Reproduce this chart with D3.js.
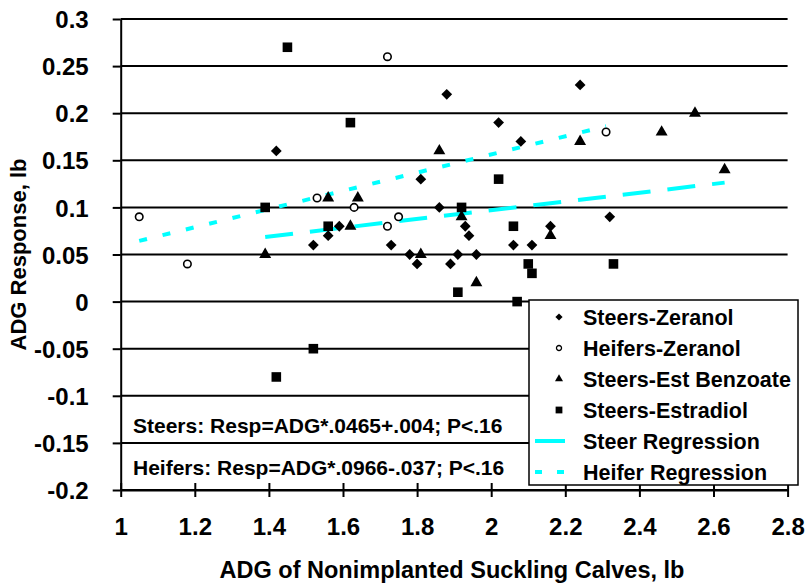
<!DOCTYPE html>
<html>
<head>
<meta charset="utf-8">
<script src="https://cdn.jsdelivr.net/npm/d3@7"></script>
<style>
  body { margin: 0; background: #fff; }
  svg { display: block; font-family: "Liberation Sans", Arial, sans-serif; font-weight: bold; }
</style>
</head>
<body>
<svg id="chart" width="806" height="584"></svg>
<script>
// 数据 [ADG, response]
var steersZeranol = [
    [1.42, 0.16], [1.88, 0.22], [2.24, 0.23], [2.02, 0.19], [2.08, 0.17], [1.81, 0.13],
    [1.86, 0.10], [1.59, 0.08], [1.56, 0.07], [1.52, 0.06], [1.73, 0.06], [1.78, 0.05],
    [1.80, 0.04], [1.89, 0.04], [1.91, 0.05], [1.96, 0.05], [1.93, 0.08], [1.94, 0.07],
    [2.32, 0.09], [2.16, 0.08], [2.06, 0.06], [2.11, 0.06]
];
var heifersZeranol = [
    [1.05, 0.09], [1.18, 0.04], [1.53, 0.11], [1.63, 0.10], [1.72, 0.26], [1.72, 0.08],
    [1.75, 0.09], [2.31, 0.18]
];
var steersEstBenzoate = [
    [1.39, 0.05], [1.56, 0.11], [1.62, 0.08], [1.64, 0.11], [1.81, 0.05], [1.86, 0.16],
    [1.92, 0.09], [1.96, 0.02], [2.16, 0.07], [2.24, 0.17], [2.46, 0.18], [2.55, 0.20],
    [2.63, 0.14]
];
var steersEstradiol = [
    [1.39, 0.10], [1.45, 0.27], [1.62, 0.19], [1.56, 0.08], [1.52, -0.05], [1.42, -0.08],
    [1.92, 0.10], [1.91, 0.01], [2.02, 0.13], [2.06, 0.08], [2.07, 0.00], [2.10, 0.04],
    [2.11, 0.03], [2.33, 0.04]
];
// 回归系数 [slope, intercept]
var steerCoef = [0.0465, 0.004];
var heiferCoef = [0.0966, -0.037];

var xTicks = [1, 1.2, 1.4, 1.6, 1.8, 2, 2.2, 2.4, 2.6, 2.8];
var xTickLabels = ['1', '1.2', '1.4', '1.6', '1.8', '2', '2.2', '2.4', '2.6', '2.8'];
var yTicks = [0.3, 0.25, 0.2, 0.15, 0.1, 0.05, 0, -0.05, -0.1, -0.15, -0.2];
var yTickLabels = ['0.3', '0.25', '0.2', '0.15', '0.1', '0.05', '0', '-0.05', '-0.1', '-0.15', '-0.2'];

var legendLabels = ['Steers-Zeranol', 'Heifers-Zeranol', 'Steers-Est Benzoate', 'Steers-Estradiol',
    'Steer Regression', 'Heifer Regression'];
var steerNote = 'Steers: Resp=ADG*.0465+.004; P<.16';
var heiferNote = 'Heifers: Resp=ADG*.0966-.037; P<.16';

var svg = d3.select('#chart');
var plotLeft = 120.7, plotRight = 787.6, plotTop = 19, plotBottom = 490;

var x = d3.scaleLinear().domain([1, 2.8]).range([plotLeft, plotRight]);
var y = d3.scaleLinear().domain([-0.2, 0.3]).range([plotBottom, plotTop]);

// 网格线
svg.append('g').selectAll('line')
    .data(yTicks)
    .enter()
    .append('line')
    .attr('x1', plotLeft).attr('x2', plotRight)
    .attr('y1', function(d) { return y(d); })
    .attr('y2', function(d) { return y(d); })
    .attr('stroke', '#000')
    .attr('stroke-width', 2);

// 坐标轴
var yAxis = svg.append('g')
    .attr('transform', 'translate(' + plotLeft + ',0)')
    .call(d3.axisLeft(y).tickValues(yTicks).tickSize(8).tickSizeOuter(0).tickPadding(24)
        .tickFormat(function(d, i) { return yTickLabels[i]; }));
var xAxis = svg.append('g')
    .attr('transform', 'translate(0,' + plotBottom + ')')
    .call(d3.axisBottom(x).tickValues(xTicks).tickSize(7).tickSizeOuter(0).tickPadding(21)
        .tickFormat(function(d, i) { return xTickLabels[i]; }));
xAxis.selectAll('.tick line').attr('y1', -7);
[xAxis, yAxis].forEach(function(a) {
    a.select('.domain').attr('stroke', '#000').attr('stroke-width', 2);
    a.selectAll('.tick line').attr('stroke', '#000').attr('stroke-width', 2);
    a.selectAll('.tick text')
        .attr('fill', '#000')
        .style('font-family', '"Liberation Sans", Arial, sans-serif')
        .style('font-weight', 'bold')
        .style('font-size', '24px');
});
yAxis.selectAll('.tick text').attr('dy', '0.36em');

// 回归线
function drawRegression(data, coef, dash) {
    var ext = d3.extent(data, function(d) { return d[0]; });
    svg.append('line')
        .attr('x1', x(ext[0])).attr('y1', y(ext[0] * coef[0] + coef[1]))
        .attr('x2', x(ext[1])).attr('y2', y(ext[1] * coef[0] + coef[1]))
        .attr('stroke', '#00ffff')
        .attr('stroke-width', 4)
        .attr('stroke-dasharray', dash);
}
drawRegression(steersZeranol.concat(steersEstBenzoate, steersEstradiol), steerCoef, '28,17');
drawRegression(heifersZeranol, heiferCoef, '8,16');

// 散点
var series = [
    { data: steersZeranol, type: d3.symbolSquare, size: 58, rotate: 45, fill: '#000' },
    { data: heifersZeranol, type: d3.symbolCircle, size: 44, rotate: 0, fill: '#fff' },
    { data: steersEstBenzoate, type: d3.symbolTriangle, size: 62, rotate: 0, fill: '#000' },
    { data: steersEstradiol, type: d3.symbolSquare, size: 92, rotate: 0, fill: '#000' }
];
var legendSize = [26, 20, 28, 46];
series.forEach(function(s) {
    svg.append('g').selectAll('path')
        .data(s.data)
        .enter()
        .append('path')
        .attr('d', d3.symbol().type(s.type).size(s.size))
        .attr('transform', function(d) {
            return 'translate(' + x(d[0]) + ',' + y(d[1]) + ') rotate(' + s.rotate + ')';
        })
        .attr('fill', s.fill)
        .attr('stroke', '#000')
        .attr('stroke-width', s.fill === '#fff' ? 1.6 : 0);
});

// 方程文字
svg.append('text').attr('x', 133).attr('y', 433).style('font-size', '21px').text(steerNote);
svg.append('text').attr('x', 133).attr('y', 475).style('font-size', '21px').text(heiferNote);

// 图例
var legend = svg.append('g');
legend.append('rect')
    .attr('x', 529).attr('y', 300).attr('width', 269).attr('height', 185)
    .attr('fill', '#fff').attr('stroke', '#000').attr('stroke-width', 1.5);
var rows = legend.selectAll('g.row')
    .data(legendLabels)
    .enter()
    .append('g')
    .attr('class', 'row')
    .attr('transform', function(d, i) { return 'translate(0,' + (317 + i * 31) + ')'; });
rows.append('text')
    .attr('x', 583)
    .attr('y', 7.5)
    .style('font-size', '21.5px')
    .text(function(d) { return d; });
rows.filter(function(d, i) { return i < 4; })
    .append('path')
    .attr('d', function(d, i) { return d3.symbol().type(series[i].type).size(legendSize[i])(); })
    .attr('transform', function(d, i) { return 'translate(559,0) rotate(' + series[i].rotate + ')'; })
    .attr('fill', function(d, i) { return series[i].fill; })
    .attr('stroke', '#000')
    .attr('stroke-width', function(d, i) { return series[i].fill === '#fff' ? 1.3 : 0; });
rows.filter(function(d, i) { return i >= 4; })
    .append('line')
    .attr('x1', 535).attr('x2', 565)
    .attr('stroke', '#00ffff').attr('stroke-width', 4)
    .attr('stroke-dasharray', function(d, i) { return i === 0 ? null : '7,15'; });

// 坐标轴标题
svg.append('text')
    .attr('x', 452).attr('y', 578)
    .attr('text-anchor', 'middle')
    .style('font-size', '23.5px')
    .text('ADG of Nonimplanted Suckling Calves, lb');
svg.append('text')
    .attr('transform', 'translate(26,' + ((plotTop + plotBottom) / 2) + ') rotate(-90)')
    .attr('text-anchor', 'middle')
    .style('font-size', '22px')
    .text('ADG Response, lb');
</script>
</body>
</html>
